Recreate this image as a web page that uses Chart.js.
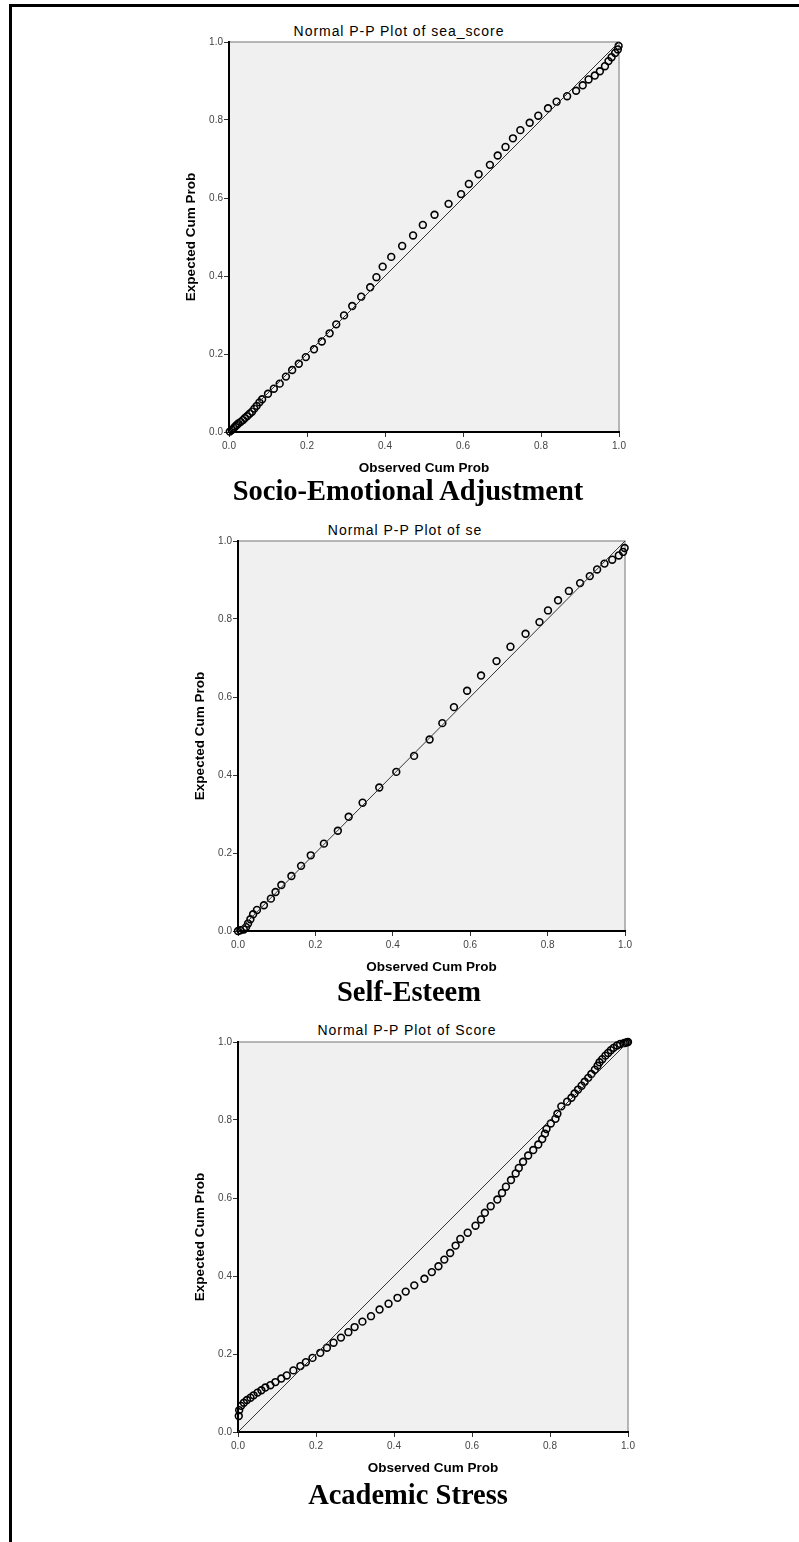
<!DOCTYPE html>
<html>
<head>
<meta charset="utf-8">
<script src="https://cdn.jsdelivr.net/npm/chart.js@4.4.1/dist/chart.umd.min.js"></script>
<style>
    html, body { margin: 0; padding: 0; background: #fff; }
    body { width: 799px; height: 1542px; position: relative; overflow: hidden; }
    .frame { position: absolute; left: 9px; top: 4px; width: 820px; height: 1600px;
             border-top: 3px solid #000; border-left: 3px solid #000; }
    .plot { position: absolute; }
    .ptitle { position: absolute; width: 400px; text-align: center; white-space: nowrap;
              font-family: 'Liberation Sans', Arial, sans-serif; font-size: 14px; line-height: 14px;
              letter-spacing: 0.95px; color: #000; }
    .caption { position: absolute; width: 500px; text-align: center; white-space: nowrap;
               font-family: 'Liberation Serif', 'Times New Roman', serif; font-weight: bold;
               font-size: 28.5px; line-height: 28.5px; color: #000; }
</style>
</head>
<body>
<div class="frame"></div>

<div class="ptitle" style="left:199px; top:24px;">Normal P-P Plot of sea_score</div>
<div class="plot" style="left:169px; top:22px;"><canvas id="chartSea" width="470" height="460"></canvas></div>
<div class="caption" style="left:158px; top:477px;">Socio-Emotional Adjustment</div>

<div class="ptitle" style="left:205px; top:523px;">Normal P-P Plot of se</div>
<div class="plot" style="left:178px; top:521px;"><canvas id="chartSe" width="467" height="460"></canvas></div>
<div class="caption" style="left:159px; top:978px;">Self-Esteem</div>

<div class="ptitle" style="left:207px; top:1023px;">Normal P-P Plot of Score</div>
<div class="plot" style="left:178px; top:1022px;"><canvas id="chartScore" width="470" height="460"></canvas></div>
<div class="caption" style="left:158px; top:1481px;">Academic Stress</div>

<script>
// Socio-Emotional Adjustment (sea_score)
const seaObserved = [0.002,0.007,0.012,0.016,0.020,0.024,0.030,0.036,0.041,0.047,0.053,0.059,0.065,0.071,0.078,0.085,0.100,0.115,0.130,0.146,0.162,0.179,0.197,0.218,0.238,0.258,0.275,0.295,0.316,0.339,0.362,0.378,0.394,0.416,0.444,0.472,0.497,0.527,0.563,0.595,0.615,0.640,0.669,0.689,0.709,0.728,0.747,0.771,0.793,0.818,0.840,0.867,0.890,0.907,0.922,0.938,0.951,0.964,0.973,0.981,0.990,0.997,0.999];
const seaExpected = [0.001,0.005,0.010,0.014,0.018,0.022,0.026,0.031,0.036,0.041,0.047,0.052,0.060,0.067,0.076,0.084,0.098,0.111,0.124,0.142,0.159,0.175,0.192,0.212,0.232,0.253,0.276,0.299,0.323,0.347,0.371,0.397,0.424,0.449,0.477,0.504,0.531,0.557,0.585,0.610,0.636,0.661,0.685,0.709,0.731,0.753,0.774,0.793,0.811,0.830,0.847,0.861,0.875,0.889,0.904,0.914,0.925,0.938,0.951,0.961,0.972,0.981,0.990];

// Self-Esteem (se)
const seObserved = [0.000,0.006,0.015,0.021,0.026,0.032,0.039,0.049,0.067,0.085,0.097,0.112,0.138,0.163,0.188,0.222,0.258,0.286,0.322,0.365,0.409,0.455,0.495,0.528,0.558,0.592,0.628,0.668,0.704,0.743,0.779,0.801,0.827,0.855,0.884,0.909,0.928,0.947,0.967,0.984,0.995,0.999];
const seExpected = [0.000,0.002,0.004,0.010,0.019,0.030,0.043,0.054,0.066,0.083,0.100,0.118,0.141,0.167,0.194,0.224,0.257,0.293,0.329,0.368,0.408,0.449,0.491,0.533,0.574,0.616,0.655,0.692,0.729,0.762,0.792,0.822,0.848,0.872,0.892,0.910,0.927,0.942,0.952,0.963,0.972,0.982];

// Academic Stress (Score)
const scoreObserved = [0.002,0.003,0.008,0.015,0.023,0.032,0.040,0.050,0.060,0.070,0.083,0.096,0.111,0.125,0.142,0.160,0.174,0.191,0.211,0.228,0.245,0.264,0.283,0.299,0.319,0.341,0.363,0.386,0.409,0.430,0.452,0.478,0.497,0.514,0.529,0.544,0.558,0.570,0.589,0.609,0.623,0.633,0.648,0.665,0.677,0.687,0.700,0.712,0.720,0.731,0.744,0.757,0.770,0.780,0.787,0.791,0.802,0.814,0.819,0.829,0.844,0.855,0.863,0.872,0.881,0.889,0.898,0.906,0.915,0.922,0.927,0.934,0.942,0.949,0.956,0.963,0.972,0.980,0.989,0.997,0.993,1.000];
const scoreExpected = [0.041,0.056,0.067,0.075,0.082,0.088,0.094,0.101,0.107,0.114,0.120,0.128,0.137,0.145,0.158,0.169,0.179,0.190,0.203,0.216,0.229,0.242,0.256,0.269,0.283,0.297,0.314,0.329,0.344,0.360,0.376,0.393,0.410,0.425,0.442,0.459,0.478,0.495,0.511,0.529,0.545,0.562,0.579,0.596,0.613,0.629,0.646,0.663,0.677,0.693,0.709,0.723,0.737,0.751,0.765,0.777,0.791,0.803,0.816,0.835,0.847,0.857,0.868,0.878,0.888,0.898,0.908,0.918,0.929,0.939,0.948,0.956,0.965,0.972,0.979,0.985,0.991,0.995,0.997,0.999,0.998,1.000];

// Diagonal reference line and axis ticks
const diagonal = [0, 1];
const tickValues = [0, 0.2, 0.4, 0.6, 0.8, 1.0];
const tickLabels = ['0.0', '0.2', '0.4', '0.6', '0.8', '1.0'];

// fond cinza + moldura cinza em cima/direita (estilo SPSS)
const plotFrame = {
    id: 'plotFrame',
    beforeDraw(chart) {
        const { ctx, chartArea: a } = chart;
        ctx.save();
        ctx.fillStyle = '#f0f0f0';
        ctx.fillRect(a.left, a.top, a.right - a.left, a.bottom - a.top);
        ctx.strokeStyle = '#a0a0a0';
        ctx.lineWidth = 1.5;
        ctx.beginPath();
        ctx.moveTo(a.left, a.top);
        ctx.lineTo(a.right, a.top);
        ctx.lineTo(a.right, a.bottom);
        ctx.stroke();
        ctx.restore();
    }
};

function axis(titleText, isY) {
    return {
        type: 'linear',
        min: 0,
        max: 1,
        afterBuildTicks: s => { s.ticks = tickValues.map(v => ({ value: v })); },
        afterFit: s => { if (isY) s.width = 60; else s.height = 50; },
        ticks: {
            callback: (v, i) => tickLabels[i],
            color: '#444',
            padding: isY ? 1 : 3,
            font: { family: "'Liberation Sans', Arial, sans-serif", size: 10 }
        },
        grid: { display: true, drawOnChartArea: false, drawTicks: true, tickLength: 5, color: '#333', lineWidth: 1 },
        border: { display: true, color: '#000', width: 2 },
        title: {
            display: true,
            text: titleText,
            color: '#000',
            font: { family: "'Liberation Sans', Arial, sans-serif", size: 13.5, weight: 'bold' },
            padding: isY ? { top: 14 } : { bottom: 5.4 }
        }
    };
}

function makePlot(id, observed, expected) {
    const points = observed.map((x, i) => ({ x: x, y: expected[i] }));
    const line = diagonal.map(v => ({ x: v, y: v }));
    new Chart(document.getElementById(id), {
        type: 'scatter',
        data: {
            datasets: [
                {
                    type: 'line',
                    data: line,
                    borderColor: '#333',
                    borderWidth: 1,
                    pointRadius: 0,
                    fill: false
                },
                {
                    data: points,
                    pointStyle: 'circle',
                    pointRadius: 3.4,
                    borderWidth: 1.6,
                    borderColor: '#000',
                    backgroundColor: 'rgba(0,0,0,0)',
                    clip: false
                }
            ]
        },
        options: {
            responsive: false,
            animation: false,
            events: [],
            layout: { padding: { left: 0, top: 20, right: 20, bottom: 0 } },
            plugins: { legend: { display: false }, tooltip: { enabled: false } },
            scales: {
                x: axis('Observed Cum Prob', false),
                y: axis('Expected Cum Prob', true)
            }
        },
        plugins: [plotFrame]
    });
}

makePlot('chartSea', seaObserved, seaExpected);
makePlot('chartSe', seObserved, seExpected);
makePlot('chartScore', scoreObserved, scoreExpected);
</script>
</body>
</html>
